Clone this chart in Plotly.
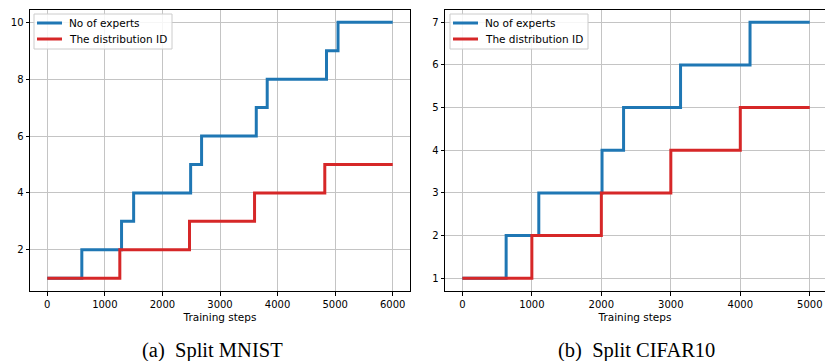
import plotly.graph_objects as go

# Split MNIST
mnist_exp_x = [0, 600, 1290, 1500, 2490, 2680, 3630, 3820, 4850, 5050, 6000]
mnist_exp_y = [1, 2, 3, 4, 5, 6, 7, 8, 9, 10, 10]
mnist_dist_x = [0, 1260, 2470, 3600, 4820, 6000]
mnist_dist_y = [1, 2, 3, 4, 5, 5]

# Split CIFAR10
cifar_exp_x = [0, 630, 1100, 2010, 2320, 3140, 4140, 5000]
cifar_exp_y = [1, 2, 3, 4, 5, 6, 7, 7]
cifar_dist_x = [0, 1000, 2000, 3000, 4000, 5000]
cifar_dist_y = [1, 2, 3, 4, 5, 5]

mnist_xticks = [0, 1000, 2000, 3000, 4000, 5000, 6000]
mnist_yticks = [2, 4, 6, 8, 10]
cifar_xticks = [0, 1000, 2000, 3000, 4000, 5000]
cifar_yticks = [1, 2, 3, 4, 5, 6, 7]

names = ["No of experts", "The distribution ID"]
captions = ["(a)  Split MNIST", "(b)  Split CIFAR10"]
xlabel = "Training steps"

BLUE = "#1f77b4"
RED = "#d62728"
W, H = 825, 361

fig = go.Figure()
fig.add_trace(go.Scatter(x=mnist_exp_x, y=mnist_exp_y, mode="lines", line_shape="hv",
                         line=dict(color=BLUE, width=3), name=names[0],
                         xaxis="x", yaxis="y"))
fig.add_trace(go.Scatter(x=mnist_dist_x, y=mnist_dist_y, mode="lines", line_shape="hv",
                         line=dict(color=RED, width=3), name=names[1],
                         xaxis="x", yaxis="y"))
fig.add_trace(go.Scatter(x=cifar_exp_x, y=cifar_exp_y, mode="lines", line_shape="hv",
                         line=dict(color=BLUE, width=3), name=names[0],
                         xaxis="x2", yaxis="y2"))
fig.add_trace(go.Scatter(x=cifar_dist_x, y=cifar_dist_y, mode="lines", line_shape="hv",
                         line=dict(color=RED, width=3), name=names[1],
                         xaxis="x2", yaxis="y2"))

tickfont = dict(family="DejaVu Sans", size=10, color="#000000")
labelfont = dict(family="DejaVu Sans", size=10.5, color="#000000")
ydom = [(H - 291) / H, (H - 9.5) / H]

def xax(domain, rng, ticks, anchor):
    return dict(domain=domain, range=rng, tickvals=ticks, ticks="outside", ticklen=3.5,
                tickwidth=1, tickcolor="#000", showline=True, linecolor="#000", linewidth=1,
                mirror=True, showgrid=True, gridcolor="#c4c4c4", gridwidth=1, zeroline=False,
                tickfont=tickfont, anchor=anchor, automargin=False,
                title=dict(text=xlabel, font=labelfont, standoff=5))

def yax(rng, ticks, anchor, mirror):
    return dict(domain=ydom, range=rng, tickvals=ticks, ticks="outside", ticklen=3.5,
                tickwidth=1, tickcolor="#000", showline=True, linecolor="#000", linewidth=1,
                mirror=mirror, showgrid=True, gridcolor="#c4c4c4", gridwidth=1, zeroline=False,
                tickfont=tickfont, anchor=anchor, automargin=False)

# hand-built legends (matplotlib style) in paper pixels
shapes = []
annotations = []
def px(x):
    return x / W
def py(y):
    return (H - y) / H

for left in (34, 450):
    shapes.append(dict(type="rect", xref="paper", yref="paper", layer="above",
                       x0=px(left), x1=px(left + 138), y0=py(49), y1=py(14),
                       fillcolor="rgba(255,255,255,0.85)", line=dict(color="#cccccc", width=1)))
    for i, (nm, col) in enumerate(zip(names, [BLUE, RED])):
        yy = 23 + 16 * i
        shapes.append(dict(type="line", xref="paper", yref="paper", layer="above",
                           x0=px(left + 3), x1=px(left + 28), y0=py(yy), y1=py(yy),
                           line=dict(color=col, width=3)))
        annotations.append(dict(text=nm, x=px(left + 33), y=py(yy), xref="paper", yref="paper",
                                showarrow=False, xanchor="left", yanchor="middle",
                                font=labelfont))

for cap, cx in zip(captions, [212, 636]):
    annotations.append(dict(text=cap, x=px(cx), y=py(350), xref="paper", yref="paper",
                            showarrow=False, xanchor="center", yanchor="middle",
                            font=dict(family="Liberation Serif", size=20.5, color="#000")))

fig.update_layout(
    width=W, height=H, margin=dict(l=0, r=0, t=0, b=0, autoexpand=False),
    paper_bgcolor="white", plot_bgcolor="white",
    xaxis=xax([30 / W, 410 / W], [-300, 6300], mnist_xticks, "y"),
    yaxis=yax([0.55, 10.45], mnist_yticks, "x", True),
    xaxis2=xax([445 / W, 1.0], [-250, 5219], cifar_xticks, "y2"),
    yaxis2=yax([0.7, 7.3], cifar_yticks, "x2", False),
    showlegend=False,
    shapes=shapes,
    annotations=annotations,
)

fig.write_html("out.html", config={"displayModeBar": False},
               post_script="document.body.style.margin='0';document.body.style.overflow='hidden';")
